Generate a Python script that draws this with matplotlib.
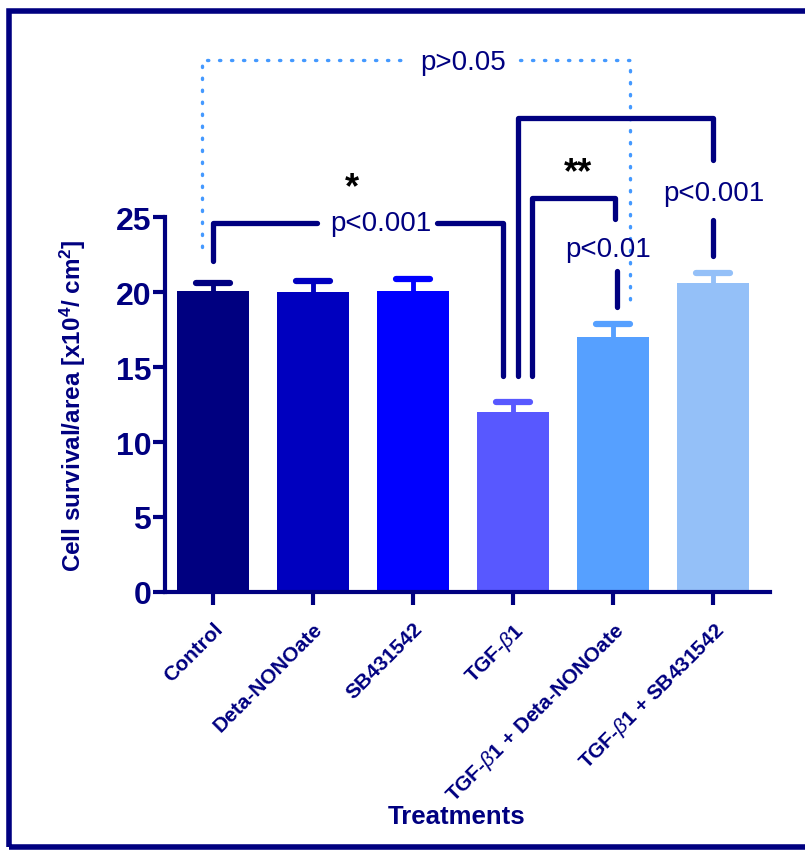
import matplotlib
matplotlib.use("Agg")
import matplotlib.pyplot as plt
import matplotlib.patches as mpatches

plt.rcParams["font.family"] = ["Liberation Sans", "DejaVu Sans"]
plt.rcParams["mathtext.fontset"] = "custom"
plt.rcParams["mathtext.rm"] = "Liberation Sans:bold"
plt.rcParams["mathtext.it"] = "Liberation Sans:italic"
plt.rcParams["mathtext.bf"] = "Liberation Sans:bold"

NAVY = "#000080"

# data
treatments = ["Control", "Deta-NONOate", "SB431542", r"TGF-$\it{\beta}$1",
              r"TGF-$\it{\beta}$1 + Deta-NONOate", r"TGF-$\it{\beta}$1 + SB431542"]
means = [20.1, 20.0, 20.1, 12.0, 17.0, 20.6]
sems = [0.55, 0.75, 0.8, 0.7, 0.85, 0.7]
bar_colors = ["#000080", "#0000BF", "#0000FF", "#5858FF", "#56A0FF", "#94C0F8"]
yticks = [0, 5, 10, 15, 20, 25]

fig = plt.figure(figsize=(8.05, 8.53), dpi=100)
ax = fig.add_axes([0.205, 0.305, 0.752, 0.648])

x = list(range(len(treatments)))
ax.bar(x, means, width=0.72, color=bar_colors, zorder=2)
# upper error bars with rounded caps
for xi, m, e, c in zip(x, means, sems, bar_colors):
    ax.plot([xi, xi], [m, m + e], color=c, lw=3.5, zorder=1)
    ax.plot([xi - 0.17, xi + 0.17], [m + e, m + e], color=c, lw=4.5,
            solid_capstyle="round", zorder=1)

ax.set_xlim(-0.48, 5.57)
ax.set_ylim(0, 36.9)
ax.spines["top"].set_visible(False)
ax.spines["right"].set_visible(False)
ax.spines["left"].set_bounds(0, 25)
for s in ("left", "bottom"):
    ax.spines[s].set_linewidth(3)
    ax.spines[s].set_color(NAVY)
ax.set_yticks(yticks)
ax.set_xticks(x)
ax.tick_params(axis="y", length=9, width=3, color=NAVY, labelcolor=NAVY,
               labelsize=23, pad=1)
ax.tick_params(axis="x", length=9, width=3, color=NAVY, labelcolor=NAVY,
               labelsize=15, pad=10)
for lab in ax.get_yticklabels():
    lab.set_fontweight("bold")
ax.set_xticklabels(treatments, rotation=45, ha="right", rotation_mode="anchor",
                   fontweight="bold")
ax.set_ylabel("Cell survival/area [x10$^4$/ cm$^2$]", fontsize=17.5,
              fontweight="bold", color=NAVY)
ax.yaxis.set_label_coords(-0.128, 12.5 / 36.9)
fig.text(457 / 805, 1 - 817 / 853, "Treatments", fontsize=18.5,
         fontweight="bold", color=NAVY, ha="center", va="center")

# significance brackets
lk = dict(color=NAVY, lw=3.8, solid_capstyle="round", solid_joinstyle="round",
          clip_on=False, zorder=3)
tk = dict(color=NAVY, fontsize=20, ha="center", va="center", zorder=4)
dk = dict(color="#4499FF", lw=2.4, ls=(0, (0.4, 3.2)), dash_capstyle="round",
          clip_on=False, zorder=1)

# Control vs TGF-b1
ax.plot([0, 0, 1.04], [22.1, 24.6, 24.6], **lk)
ax.plot([2.24, 2.9, 2.9], [24.6, 24.6, 14.4], **lk)
ax.text(1.68, 24.6, "p<0.001", **tk)
ax.text(1.39, 27.0, "*", color="black", fontsize=26, fontweight="bold",
        ha="center", va="center")

# Control vs TGF-b1 + SB (dotted)
ax.plot([-0.11, -0.11, 1.97], [23.0, 35.5, 35.5], **dk)
ax.plot([3.07, 4.17, 4.17], [35.5, 35.5, 19.2], **dk)
ax.text(2.5, 35.4, "p>0.05", **tk)

# TGF-b1 vs TGF-b1 + SB
ax.plot([3.05, 3.05, 5.0, 5.0], [14.4, 31.6, 31.6, 28.8], **lk)
ax.plot([5.0, 5.0], [24.8, 22.4], **lk)
ax.text(5.0, 26.6, "p<0.001", **tk)

# TGF-b1 vs TGF-b1 + Deta
ax.plot([3.19, 3.19, 4.02, 4.02], [14.4, 26.3, 26.3, 24.9], **lk)
ax.plot([4.04, 4.04], [21.4, 19.0], **lk)
ax.text(3.95, 22.9, "p<0.01", **tk)
ax.text(3.65, 28.0, "**", color="black", fontsize=26, fontweight="bold",
        ha="center", va="center")

# figure frame
fig.patches.append(mpatches.Rectangle((0.011, 0.006), 1.2, 0.98,
                                      transform=fig.transFigure, fill=False,
                                      edgecolor=NAVY, lw=4))

fig.savefig("out.png", dpi=100)
